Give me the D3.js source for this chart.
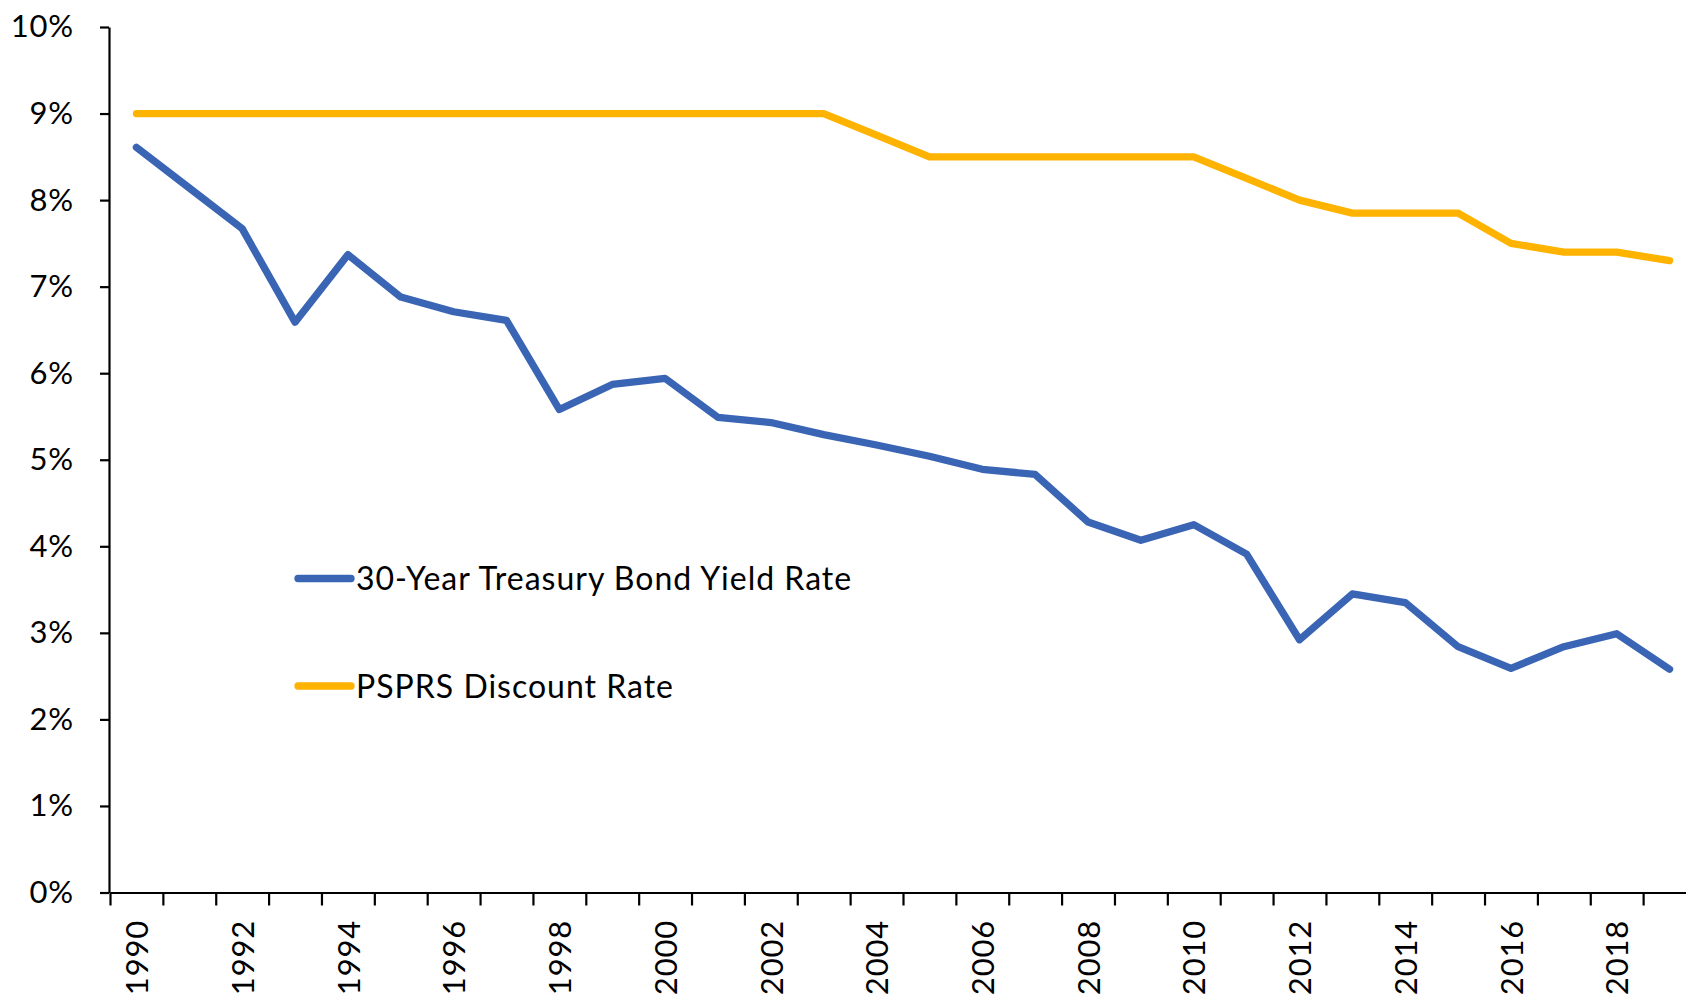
<!DOCTYPE html>
<html>
<head>
<meta charset="utf-8">
<script src="https://cdn.jsdelivr.net/npm/d3@7"></script>
<style>
  html, body { margin: 0; padding: 0; background: #fff; overflow: hidden; }
  svg { display: block; }
  text { font-family: Lato, "Open Sans", sans-serif; fill: #000; }
</style>
</head>
<body>
<svg id="chart" width="1686" height="994"></svg>
<script>
const years = d3.range(1990, 2020);
const treasuryYield = [8.61, 8.14, 7.67, 6.59, 7.37, 6.88, 6.71, 6.61, 5.58, 5.87,
                       5.94, 5.49, 5.43, 5.29, 5.17, 5.04, 4.89, 4.83, 4.28, 4.07,
                       4.25, 3.91, 2.92, 3.45, 3.35, 2.84, 2.59, 2.84, 2.99, 2.58];
const psprsRate = [9.0, 9.0, 9.0, 9.0, 9.0, 9.0, 9.0, 9.0, 9.0, 9.0,
                   9.0, 9.0, 9.0, 9.0, 8.75, 8.5, 8.5, 8.5, 8.5, 8.5,
                   8.5, 8.25, 8.0, 7.85, 7.85, 7.85, 7.5, 7.4, 7.4, 7.3];
const yTicks = [0, 1, 2, 3, 4, 5, 6, 7, 8, 9, 10];
const xLabelYears = d3.range(1990, 2020, 2);
const seriesNames = ["30-Year Treasury Bond Yield Rate", "PSPRS Discount Rate"];
const seriesColors = ["#3A64B4", "#FDB300"];

(function () {
const svg = d3.select("#chart");
const mLeft = 110, mRight = 1696, mTop = 27, mBottom = 892.5;

const x = d3.scaleLinear().domain([1989.5, 2019.5]).range([mLeft, mRight]);
const y = d3.scaleLinear().domain([0, 10]).range([mBottom, mTop]);

// Y axis
const yAxis = svg.append("g")
  .attr("transform", `translate(${mLeft - 1},0)`)
  .call(d3.axisLeft(y).tickValues(yTicks).tickFormat(d => d + "%").tickSize(9).tickPadding(26).tickSizeOuter(0));
yAxis.select(".domain").attr("stroke", "#000").attr("stroke-width", 2.2);
yAxis.selectAll(".tick line").attr("stroke", "#000").attr("stroke-width", 2.2);
yAxis.selectAll(".tick text").style("font-family", "Lato, sans-serif").style("font-size", "31px")
  .style("letter-spacing", "0.8px").attr("fill", "#000");

// X axis ticks (category boundaries)
const boundaries = d3.range(1989.5, 2020, 1);
const xTickAxis = svg.append("g")
  .attr("transform", `translate(0,${mBottom})`)
  .call(d3.axisBottom(x).tickValues(boundaries).tickFormat("").tickSize(13).tickSizeOuter(0));
xTickAxis.select(".domain").attr("stroke", "#000").attr("stroke-width", 2.2);
xTickAxis.selectAll(".tick line").attr("stroke", "#000").attr("stroke-width", 2.2);

// X axis labels
const xLabelAxis = svg.append("g")
  .attr("transform", `translate(0,${mBottom})`)
  .call(d3.axisBottom(x).tickValues(xLabelYears).tickFormat(d3.format("d")).tickSize(0));
xLabelAxis.select(".domain").remove();
xLabelAxis.selectAll(".tick text")
  .style("font-family", "Lato, sans-serif").style("font-size", "31px")
  .style("letter-spacing", "0.8px").attr("fill", "#000")
  .attr("text-anchor", "end")
  .attr("transform", "translate(0,27.5) rotate(-90)")
  .attr("x", 0).attr("y", 0).attr("dy", "0.36em");

// Lines
const line = d3.line().x(d => x(d[0])).y(d => y(d[1]));
const series = [treasuryYield, psprsRate];
series.forEach((vals, i) => {
  svg.append("path")
    .datum(years.map((yr, j) => [yr, vals[j]]))
    .attr("fill", "none")
    .attr("stroke", seriesColors[i])
    .attr("stroke-width", 7.3)
    .attr("stroke-linejoin", "round")
    .attr("stroke-linecap", "round")
    .attr("d", line);
});

// Legend
const legendY = [578.5, 686];
seriesNames.forEach((name, i) => {
  const g = svg.append("g").attr("transform", `translate(0,${legendY[i]})`);
  g.append("line").attr("x1", 298).attr("x2", 351).attr("y1", 0).attr("y2", 0)
    .attr("stroke", seriesColors[i]).attr("stroke-width", 7.3).attr("stroke-linecap", "round");
  g.append("text").attr("x", 356).attr("y", 0).attr("dy", "0.36em")
    .style("font-family", "Lato, sans-serif").style("font-size", "32px")
    .style("letter-spacing", "1px")
    .text(name);
});
})();
</script>
</body>
</html>
